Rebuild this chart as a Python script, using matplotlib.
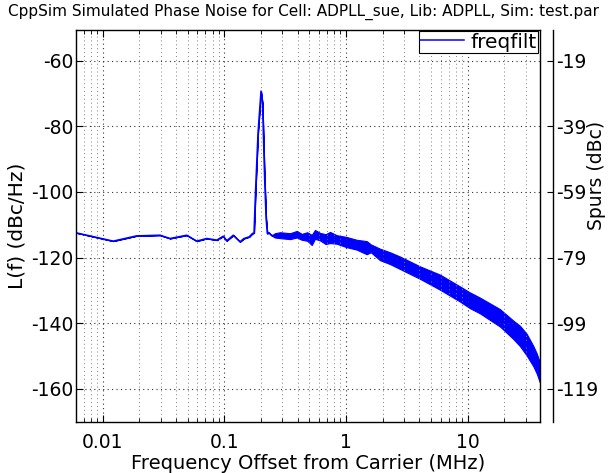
import numpy as np
import matplotlib
matplotlib.use("Agg")
import matplotlib.pyplot as plt
from matplotlib.ticker import LogLocator, NullFormatter

plt.rcParams['font.family'] = ['DejaVu Sans']

# frequency offset (MHz) and noise band edges (dBc/Hz)
freq = [0.0061, 0.0122, 0.019, 0.0296, 0.0358, 0.0491, 0.0593, 0.0717, 0.0866,
        0.098, 0.1046, 0.1186, 0.1346, 0.145, 0.160, 0.170, 0.1754, 0.1804,
        0.1892, 0.2002, 0.206, 0.214, 0.2203, 0.2256, 0.232, 0.245, 0.26,
        0.287, 0.347, 0.394, 0.433, 0.48, 0.523, 0.556, 0.612, 0.68, 0.739, 0.839,
        1.0, 1.224, 1.479, 1.6, 1.90, 2.3, 2.78, 4.06, 5.92, 8.64, 10.4, 12.6, 18.4,
        23.7, 26.9, 30.5, 34.6, 36.9, 39.3]
pn_hi = [-112.5, -115.0, -113.4, -113.2, -114.2, -113.2, -115.0, -114.2, -114.7,
         -113.5, -114.9, -113.2, -115.2, -114.2, -113.7, -112.7, -112.5, -100.0,
         -82.0, -69.3, -73.0, -95.0, -108.0, -112.7, -112.4, -113.3, -112.6,
         -112.3, -112.6, -111.9, -112.8, -112.3, -113.1, -111.6, -112.5, -112.9, -112.2, -113.2,
         -113.7, -114.6, -115.0, -116.0, -117.3, -118.4, -119.7, -122.7, -125.2, -128.8, -130.6, -132.2, -135.7,
         -139.2, -140.8, -143.2, -146.9, -149.2, -152.0]
pn_lo = [-112.5, -115.0, -113.4, -113.2, -114.2, -113.2, -115.0, -114.2, -114.7,
         -113.5, -114.9, -113.2, -115.2, -114.2, -113.7, -112.7, -112.5, -100.0,
         -82.0, -69.3, -73.0, -95.0, -108.0, -112.7, -112.4, -113.3, -113.9,
         -114.1, -114.4, -113.9, -114.6, -114.9, -116.2, -114.3, -114.8, -115.9, -115.6, -115.8,
         -116.8, -117.6, -119.0, -118.4, -120.8, -122.0, -123.5, -126.5, -129.8, -133.4, -135.4, -137.0, -141.0,
         -144.8, -147.0, -149.8, -153.1, -155.3, -158.2]

yticks = [-160, -140, -120, -100, -80, -60]
spur_offset = 41

f = np.array(freq)
hi = np.array(pn_hi)
lo = np.array(pn_lo)

fig = plt.figure(figsize=(6.08, 4.73), dpi=100)
ax = fig.add_axes([76/608, 1-422/473, (540-76)/608, (422-30)/473])

ax.fill_between(f, lo, hi, color='#0000ff', lw=0.8, edgecolor='#0000ff')
ax.plot(f, (hi+lo)/2, color='#0000ff', lw=1.1, label='freqfilt')

ax.set_xscale('log')
ax.set_xlim(0.00604, 39.3)
ax.set_ylim(-170.1, -50.7)
ax.set_xticks([0.01, 0.1, 1, 10])
ax.set_xticklabels(['0.01', '0.1', '1', '10'])
ax.xaxis.set_minor_locator(LogLocator(base=10, subs=np.arange(2, 10)))
ax.xaxis.set_minor_formatter(NullFormatter())
ax.set_yticks(yticks)
ax.set_yticklabels([str(v) for v in yticks])

ax.grid(True, which='major', axis='both', linestyle=(0, (1, 3)), color='0.2', lw=0.8)
ax.grid(True, which='minor', axis='x', linestyle=(0, (1, 3)), color='0.5', lw=0.7)
ax.tick_params(which='both', direction='in', top=True, right=True, labelsize=13.5)
ax.tick_params(which='major', length=5, width=0.8)
ax.tick_params(which='minor', length=3, width=0.6)
ax.tick_params(axis='x', pad=8)
ax.tick_params(axis='y', pad=2)
for s in ax.spines.values():
    s.set_linewidth(1.0)

ax.set_xlabel('Frequency Offset from Carrier (MHz)', fontsize=14, labelpad=1)
ax.set_ylabel('L(f) (dBc/Hz)', fontsize=14.5, labelpad=3)

leg = ax.legend(loc='upper right', bbox_to_anchor=(537.5/608, 1-31.5/473),
                bbox_transform=fig.transFigure, fontsize=14.5, handlelength=2.2,
                handletextpad=0.3, borderpad=0.05, borderaxespad=0,
                fancybox=False, framealpha=1)
leg.get_frame().set_edgecolor('black')
leg.get_frame().set_linewidth(0.8)

# spurs axis, shifted out to the right
ax2 = ax.twinx()
ax2.set_ylim(-170.1 + spur_offset, -50.7 + spur_offset)
ax2.set_yticks([v + spur_offset for v in yticks])
ax2.set_yticklabels([str(v + spur_offset) for v in yticks])
for side in ['top', 'left', 'bottom']:
    ax2.spines[side].set_visible(False)
ax2.spines['right'].set_position(('outward', 13 * 72 / 100))
ax2.spines['right'].set_linewidth(1.0)
ax2.tick_params(axis='y', direction='in', length=4, labelsize=13.5, pad=2)
ax2.set_xlim(ax.get_xlim())

fig.text(597/608, 1-175/473, 'Spurs (dBc)', rotation=90, fontsize=13.5,
         ha='center', va='center')
fig.text(0.5, 1-12/473, 'CppSim Simulated Phase Noise for Cell: ADPLL_sue, Lib: ADPLL, Sim: test.par',
         fontsize=11, ha='center', va='center')

fig.savefig('out.png', dpi=100)
